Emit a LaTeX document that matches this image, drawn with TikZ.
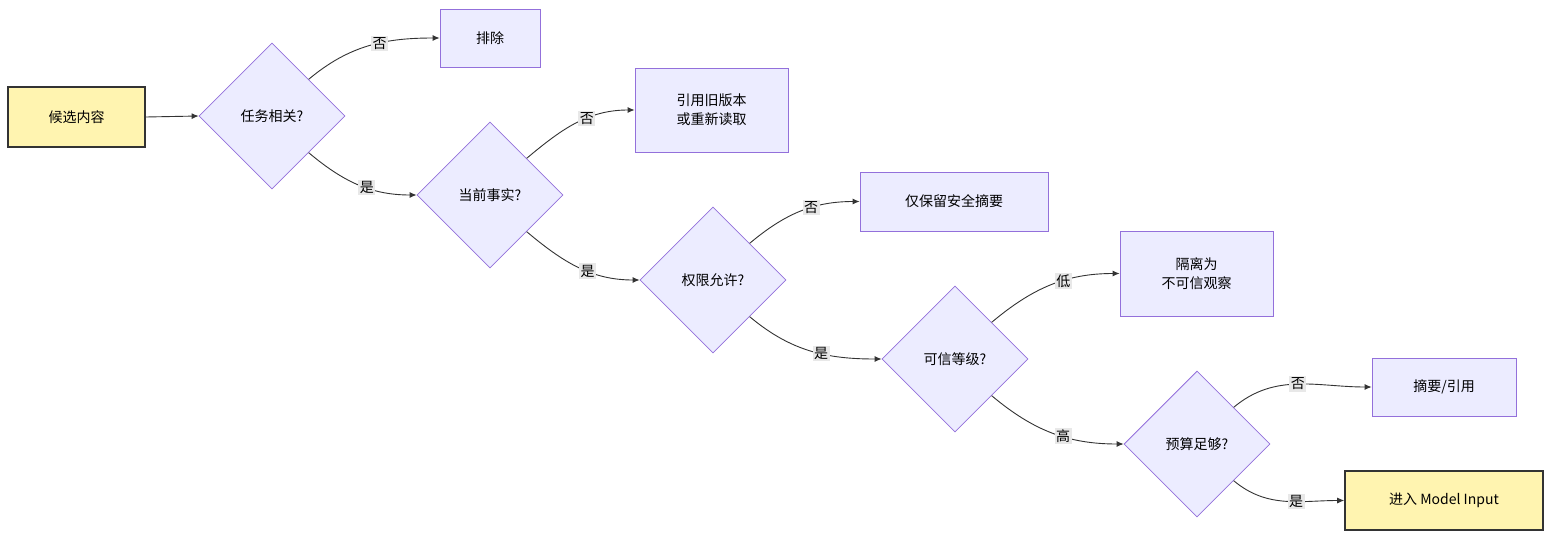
\documentclass[tikz,border=0pt]{standalone}
\usepackage{fontspec}
\setmainfont{Noto Sans CJK SC}
\usetikzlibrary{shapes.geometric,arrows.meta}
\definecolor{pfill}{HTML}{ECECFF}
\definecolor{pline}{HTML}{9370DB}
\definecolor{yfill}{HTML}{FFF4B0}
\definecolor{lbl}{HTML}{E8E8E8}
\begin{document}
\begin{tikzpicture}[x=1pt,y=-1pt,font=\fontsize{14}{19}\selectfont,
  box/.style={draw=pline,fill=pfill,line width=0.8pt,minimum height=#1,align=center,inner sep=0pt},
  ybox/.style={draw=black!80,fill=yfill,line width=1.6pt,minimum height=60pt,align=center,inner sep=0pt},
  dia/.style={diamond,draw=pline,fill=pfill,line width=0.8pt,minimum size=146pt,inner sep=0pt,aspect=1},
  lab/.style={fill=lbl,inner sep=1.5pt,font=\fontsize{14}{16}\selectfont},
  arr/.style={draw=black!80,line width=0.9pt,-{Latex[length=7pt,width=6pt]}}]
\useasboundingbox (0,0) rectangle (1568,546);
\node[ybox,minimum width=137pt] (c) at (76.5,117) {候选内容};
\node[dia] (d1) at (272,116) {任务相关?};
\node[box=58pt,minimum width=100pt] (b1) at (490,38) {排除};
\node[dia] (d2) at (490,195) {当前事实?};
\node[box=84pt,minimum width=153pt] (b2) at (711.5,110) {引用旧版本\\或重新读取};
\node[dia] (d3) at (713,280) {权限允许?};
\node[box=59pt,minimum width=188pt] (b3) at (954,201.5) {仅保留安全摘要};
\node[dia] (d4) at (955,359) {可信等级?};
\node[box=85pt,minimum width=153pt] (b4) at (1196.5,273.5) {隔离为\\不可信观察};
\node[dia] (d5) at (1197,444) {预算足够?};
\node[box=58pt,minimum width=144pt] (b5) at (1444,387) {摘要/引用};
\node[ybox,minimum width=198pt,minimum height=59pt] (b6) at (1444,500.5) {进入 Model Input};
\draw[arr] (c.east) -- (d1.west);
\draw[arr] (d1.north east) to[out=40,in=180] node[lab,pos=0.58]{否} (b1.west);
\draw[arr] (d1.south east) to[out=-40,in=180] node[lab,pos=0.58]{是} (d2.west);
\draw[arr] (d2.north east) to[out=40,in=180] node[lab,pos=0.6]{否} (b2.west);
\draw[arr] (d2.south east) to[out=-40,in=180] node[lab,pos=0.58]{是} (d3.west);
\draw[arr] (d3.north east) to[out=40,in=180] node[lab,pos=0.6]{否} (b3.west);
\draw[arr] (d3.south east) to[out=-40,in=180] node[lab,pos=0.58]{是} (d4.west);
\draw[arr] (d4.north east) to[out=40,in=180] node[lab,pos=0.6]{低} (b4.west);
\draw[arr] (d4.south east) to[out=-40,in=180] node[lab,pos=0.58]{高} (d5.west);
\draw[arr] (d5.north east) to[out=40,in=180] node[lab,pos=0.5]{否} (b5.west);
\draw[arr] (d5.south east) to[out=-40,in=180] node[lab,pos=0.6]{是} (b6.west);
\end{tikzpicture}
\end{document}
